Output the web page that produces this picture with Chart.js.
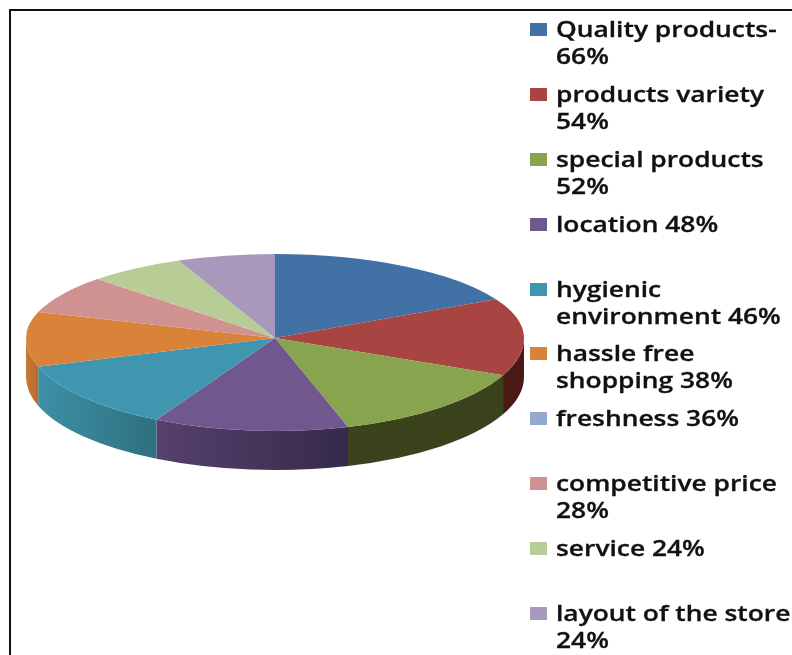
<!DOCTYPE html>
<html>
<head>
<meta charset="utf-8">
<style>
  html, body { margin: 0; padding: 0; background: #fff; overflow: hidden; }
  #page { position: relative; width: 792px; height: 655px; overflow: hidden; filter: blur(0.5px); background: #fff; }
  #frame { position: absolute; left: 9px; top: 9px; right: -4px; bottom: -4px; border: 2px solid #111; }
  canvas { position: absolute; left: 0; top: 0; }
  #legend { position: absolute; left: 530px; top: 16px; width: 262px; }
  .row { position: relative; height: 64.9px; }
  .swatch { position: absolute; left: 0; top: 7px; width: 17px; height: 13px; }
  .text {
    position: absolute; left: 26px; top: 0; white-space: pre; color: #111;
    font: 600 21px/27px "Open Sans", sans-serif;
    -webkit-text-stroke: 0.3px #111;
    transform: scaleX(1.255); transform-origin: left top;
  }
</style>
</head>
<body>
<div id="page">
  <div id="frame"></div>
  <canvas id="pie" width="792" height="655"></canvas>
  <div id="legend"></div>
</div>
<script src="https://cdn.jsdelivr.net/npm/chart.js@4"></script>
<script>
const categories = ['Quality products', 'products variety', 'special products', 'location',
    'hygienic environment', 'hassle free shopping', 'freshness', 'competitive price', 'service', 'layout of the store'];
// freshness has no slice in the picture, only a legend entry
const sliceValues = [66, 54, 52, 48, 46, 38, 0, 28, 24, 24];
const legendLabels = ['Quality products-\n66%', 'products variety\n54%', 'special products\n52%', 'location 48%',
    'hygienic\nenvironment 46%', 'hassle free\nshopping 38%', 'freshness 36%', 'competitive price\n28%', 'service 24%', 'layout of the store\n24%'];
const sliceColors = ['#4271a6', '#a84543', '#89a44e', '#70578e', '#3f96ae', '#d9823a', '#93a9cf', '#d09291', '#b8cc95', '#a899bc'];
const wallLeftColors = ['#2c4a6e', '#4a1a16', '#3a431d', '#56416c', '#3d90a6', '#c97a34', '#93a9cf', '#d09291', '#b8cc95', '#a899bc'];
const wallRightColors = ['#2c4a6e', '#4a1a16', '#3a421c', '#352a4a', '#2f6f80', '#b56c2c', '#93a9cf', '#d09291', '#b8cc95', '#a899bc'];

const backSquash = 84 / 249;
const frontSquash = 93 / 249;
const wallDepth = 39;

// Tilts the pie: the back half is a bit flatter than the front, and the rim is drawn under it
const tiltPlugin = {
    id: 'tilt',
    beforeDatasetDraw(chart, args) {
        const ctx = chart.ctx;
        const arcs = args.meta.data;
        const cx = arcs[0].x;
        const cy = arcs[0].y;
        const r = arcs[0].outerRadius;

        arcs.forEach((arc, i) => {
            const from = Math.max(arc.startAngle, 0);
            const to = Math.min(arc.endAngle, Math.PI);
            if (to <= from) return;
            const x1 = cx + r * Math.cos(to);
            const x2 = cx + r * Math.cos(from);
            const grad = ctx.createLinearGradient(x1, 0, x2, 0);
            grad.addColorStop(0, wallLeftColors[i]);
            grad.addColorStop(1, wallRightColors[i]);
            ctx.save();
            ctx.beginPath();
            ctx.ellipse(cx, cy, r, r * frontSquash, 0, from, to);
            ctx.ellipse(cx, cy + wallDepth, r, r * frontSquash, 0, to, from, true);
            ctx.closePath();
            ctx.fillStyle = grad;
            ctx.fill();
            ctx.restore();
        });

        [[0, cy, backSquash], [cy, chart.height - cy, frontSquash]].forEach(([top, h, squash]) => {
            ctx.save();
            ctx.beginPath();
            ctx.rect(0, top, chart.width, h);
            ctx.clip();
            ctx.translate(0, cy);
            ctx.scale(1, squash);
            ctx.translate(0, -cy);
            args.meta.controller.draw();
            ctx.restore();
        });
        return false;
    }
};

new Chart(document.getElementById('pie'), {
    type: 'pie',
    data: {
        labels: categories,
        datasets: [{
            data: sliceValues,
            backgroundColor: sliceColors,
            borderWidth: 0
        }]
    },
    options: {
        responsive: false,
        animation: false,
        layout: { padding: { left: 26, right: 268, top: 89, bottom: 68 } },
        plugins: { legend: { display: false }, tooltip: { enabled: false } }
    },
    plugins: [tiltPlugin]
});

const legend = document.getElementById('legend');
legendLabels.forEach((label, i) => {
    const row = document.createElement('div');
    row.className = 'row';
    row.innerHTML = `<div class="swatch" style="background:${sliceColors[i]}"></div><div class="text"></div>`;
    row.querySelector('.text').textContent = label;
    legend.appendChild(row);
});
</script>
</body>
</html>
